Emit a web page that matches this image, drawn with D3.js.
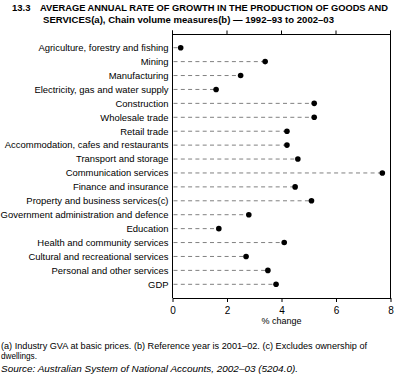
<!DOCTYPE html>
<html><head><meta charset="utf-8">
<script src="https://cdn.jsdelivr.net/npm/d3@7"></script>
<style>body{margin:0;background:#fff}svg{display:block}text{font-family:"Liberation Sans",Arial,sans-serif}</style>
</head><body>
<script>
const categories = ["Agriculture, forestry and fishing","Mining","Manufacturing","Electricity, gas and water supply","Construction","Wholesale trade","Retail trade","Accommodation, cafes and restaurants","Transport and storage","Communication services","Finance and insurance","Property and business services(c)","Government administration and defence","Education","Health and community services","Cultural and recreational services","Personal and other services","GDP"];
const growth = [0.3,3.4,2.5,1.6,5.2,5.2,4.2,4.2,4.6,7.7,4.5,5.1,2.8,1.7,4.1,2.7,3.5,3.8];
const xTicks = [0,2,4,6,8];

const W=397,H=378;
const svg=d3.select("body").append("svg").attr("width",W).attr("height",H);
const L=172.5,R=390.5,T=34.5,B=298;
const x=d3.scaleLinear().domain([0,8]).range([L,R]);
const y=d3.scalePoint().domain(categories).range([47.7,284.3]);

// title
svg.append("text").attr("x",12).attr("y",11).attr("font-weight","bold").attr("font-size",9.5).text("13.3");
svg.append("text").attr("x",40).attr("y",11).attr("font-weight","bold").attr("font-size",9.5)
  .attr("textLength",348).attr("lengthAdjust","spacingAndGlyphs")
  .text("AVERAGE ANNUAL RATE OF GROWTH IN THE PRODUCTION OF GOODS AND");
svg.append("text").attr("x",43).attr("y",22.5).attr("font-weight","bold").attr("font-size",9.5)
  .attr("textLength",291).attr("lengthAdjust","spacingAndGlyphs")
  .text("SERVICES(a), Chain volume measures(b) — 1992–93 to 2002–03");

// frame
const g=svg.append("g");
g.append("line").attr("x1",L).attr("x2",R).attr("y1",T).attr("y2",T).attr("stroke","#000");
g.append("line").attr("x1",R).attr("x2",R).attr("y1",T-4).attr("y2",B).attr("stroke","#000");
g.append("line").attr("x1",L).attr("x2",L).attr("y1",T-4).attr("y2",B).attr("stroke","#000");
g.selectAll(".tt").data(xTicks).enter().append("line").attr("x1",d=>x(d)).attr("x2",d=>x(d)).attr("y1",T-4).attr("y2",T).attr("stroke","#000");

// bottom axis
const ax=svg.append("g").attr("transform",`translate(0,${B})`)
  .call(d3.axisBottom(x).tickValues(xTicks).tickSize(4).tickSizeOuter(0).tickFormat(d3.format("d")));
ax.select(".domain").attr("stroke","#000");
ax.selectAll("text").attr("font-size",10).attr("font-family","Liberation Sans, Arial, sans-serif").attr("dy","0.9em");
svg.append("text").attr("x",x(4)).attr("y",324).attr("text-anchor","middle").attr("font-size",9).text("% change");

// category labels, sized so the longest label spans as in the reference
const labels=svg.selectAll(".cl").data(categories).enter().append("text")
  .attr("x",L-4).attr("y",d=>y(d)).attr("dy","0.35em").attr("text-anchor","end")
  .attr("font-size",9).text(d=>d);
const longest=labels.filter(d=>d.startsWith("Accommodation")).node().getComputedTextLength();
const fs=Math.min(10.5,9*164/longest);
labels.attr("font-size",fs);

// dashed leaders
svg.selectAll(".dl").data(categories).enter().append("line")
  .attr("x1",L+1).attr("x2",(d,i)=>x(growth[i])).attr("y1",d=>y(d)).attr("y2",d=>y(d))
  .attr("stroke","#808080").attr("stroke-width",1).attr("stroke-dasharray","4,3.3");
// dots
svg.selectAll(".dt").data(categories).enter().append("circle")
  .attr("cx",(d,i)=>x(growth[i])).attr("cy",d=>y(d)).attr("r",2.8).attr("fill","#000");

// footnotes
svg.append("text").attr("x",1).attr("y",349).attr("font-size",8.2)
  .attr("textLength",366).attr("lengthAdjust","spacingAndGlyphs")
  .text("(a) Industry GVA at basic prices. (b) Reference year is 2001–02. (c) Excludes ownership of");
svg.append("text").attr("x",1).attr("y",359).attr("font-size",8.2).text("dwellings.");
svg.append("text").attr("x",1).attr("y",372).attr("font-size",8.2).attr("font-style","italic")
  .attr("textLength",297).attr("lengthAdjust","spacingAndGlyphs")
  .text("Source: Australian System of National Accounts, 2002–03 (5204.0).");
</script>
</body></html>
